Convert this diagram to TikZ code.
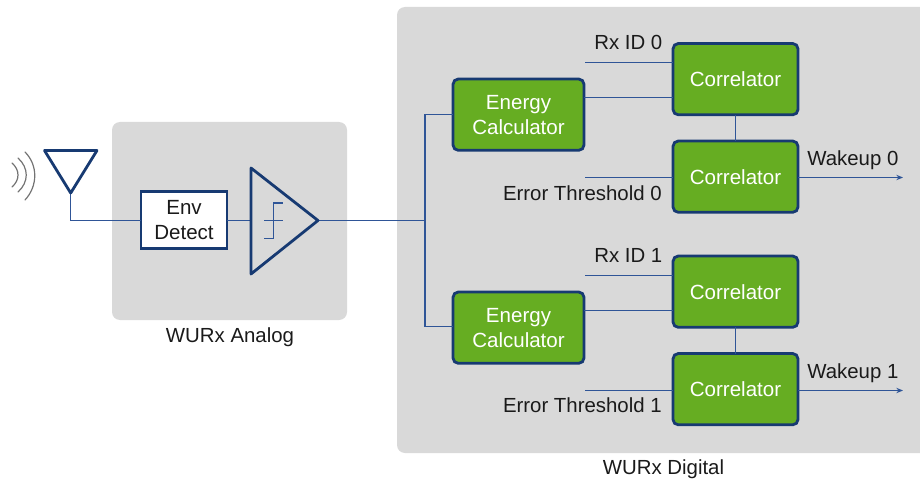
\documentclass[tikz,border=0pt]{standalone}
\usepackage{fontspec}
\setmainfont{Liberation Sans}
\usetikzlibrary{arrows.meta}
\definecolor{navy}{HTML}{173A72}
\definecolor{wire}{HTML}{2F5597}
\definecolor{panel}{HTML}{D9D9D9}
\definecolor{leaf}{HTML}{66AD22}
\definecolor{ink}{HTML}{1A1A1A}
\tikzset{
  px/.style={x=0.75pt,y=-0.75pt},
  panelbox/.style={fill=panel,rounded corners=6pt,draw=none},
  block/.style={draw=navy,line width=2.1pt,rounded corners=4pt,fill=leaf,text=white,font=\fontsize{15.4pt}{18.75pt}\selectfont,align=center,inner sep=0pt,outer sep=0pt,anchor=north west},
  envbox/.style={draw=navy,line width=2.1pt,fill=white,text=ink,font=\fontsize{15.4pt}{18.75pt}\selectfont,align=center,inner sep=0pt,outer sep=0pt,anchor=north west,minimum width=64.5pt,minimum height=42.75pt},
  corr/.style={block,minimum width=93.75pt,minimum height=53.5pt},
  energy/.style={block,minimum width=98.25pt,minimum height=53.5pt},
  wireline/.style={draw=wire,line width=0.9pt},
  tri/.style={draw=navy,line width=2.1pt,line join=round},
  lab/.style={text=ink,font=\fontsize{15.3pt}{18pt}\selectfont,inner sep=0pt},
  wave/.style={draw=gray!90!black,line width=0.9pt,line cap=round}
}
\begin{document}
\begin{tikzpicture}[px]
\useasboundingbox (0,0) rectangle (920,481);
% panels
\fill[panelbox] (112,122) rectangle (347,320);
\fill[panelbox] (397,7) rectangle (932,453);
\fill[white] (920,0) rectangle (940,481);
% named points
\coordinate (anttip) at (70.7,193);
\coordinate (antcorner) at (70.7,220.5);
\coordinate (compin) at (251,220.5);
\coordinate (compout) at (318,220.5);
\coordinate (bus) at (425,220.5);
\coordinate (busa) at (425,114.5);
\coordinate (busb) at (425,326.5);
\coordinate (rx0) at (585,62.5);
\coordinate (th0) at (585,177.5);
\coordinate (wk0) at (903,177.5);
\coordinate (rx1) at (585,275.5);
\coordinate (th1) at (585,390.5);
\coordinate (wk1) at (903,390.5);
% nodes
\node[envbox] (env) at (141,191.5) {Env\\Detect};
\node[energy] (e0) at (453,79) {Energy\\Calculator};
\node[energy] (e1) at (453,292) {Energy\\Calculator};
\node[corr] (c00) at (673,43.5) {Correlator};
\node[corr] (c01) at (673,141) {Correlator};
\node[corr] (c10) at (673,256) {Correlator};
\node[corr] (c11) at (673,353.5) {Correlator};
% wires
\draw[wireline] (anttip) -- (antcorner) -- (env.west |- antcorner);
\draw[wireline] (env.east |- compin) -- (compin);
\draw[wireline] (compout) -- (bus);
\draw[wireline] (busa) -- (busb);
\draw[wireline] (busa) -- (busa -| e0.west);
\draw[wireline] (busb) -- (busb -| e1.west);
\draw[wireline] (e0.east |- 0,97.5) -- (c00.west |- 0,97.5);
\draw[wireline] (e1.east |- 0,310.5) -- (c10.west |- 0,310.5);
\draw[wireline] (rx0) -- (rx0 -| c00.west);
\draw[wireline] (th0) -- (th0 -| c01.west);
\draw[wireline] (rx1) -- (rx1 -| c10.west);
\draw[wireline] (th1) -- (th1 -| c11.west);
\draw[wireline] (c00) -- (c01);
\draw[wireline] (c10) -- (c11);
\draw[wireline,-{Stealth[length=5pt,width=4pt]}] (wk0 -| c01.east) -- (wk0);
\draw[wireline,-{Stealth[length=5pt,width=4pt]}] (wk1 -| c11.east) -- (wk1);
% antenna
\draw[tri] (44.5,150.5) -- (97,150.5) -- (anttip) -- cycle;
\draw[wave] (25,152) .. controls (38,165) and (38,186) .. (25,200);
\draw[wave] (18,158) .. controls (29,168) and (29,182) .. (18,192);
\draw[wave] (12,163) .. controls (20,170) and (20,180) .. (12,187);
% comparator
\draw[tri] (251,168) -- (compout) -- (251,274) -- cycle;
\draw[wireline] (264,238.5) -- (273.5,238.5) -- (273.5,203) -- (283,203);
\draw[wireline] (264,220.5) -- (283,220.5);
% labels
\node[lab,anchor=base west] (l1) at (594,50) {Rx ID 0};
\node[lab,anchor=base east] (l2) at (662,200) {Error Threshold 0};
\node[lab,anchor=base west] (l3) at (807,165.5) {Wakeup 0};
\node[lab,anchor=base west] (l4) at (594,262) {Rx ID 1};
\node[lab,anchor=base east] (l5) at (662,412) {Error Threshold 1};
\node[lab,anchor=base west] (l6) at (807,378) {Wakeup 1};
\node[lab,anchor=base] (l7) at (230,342) {WURx Analog};
\node[lab,anchor=base] (l8) at (663.5,474.5) {WURx Digital};
\end{tikzpicture}
\end{document}
